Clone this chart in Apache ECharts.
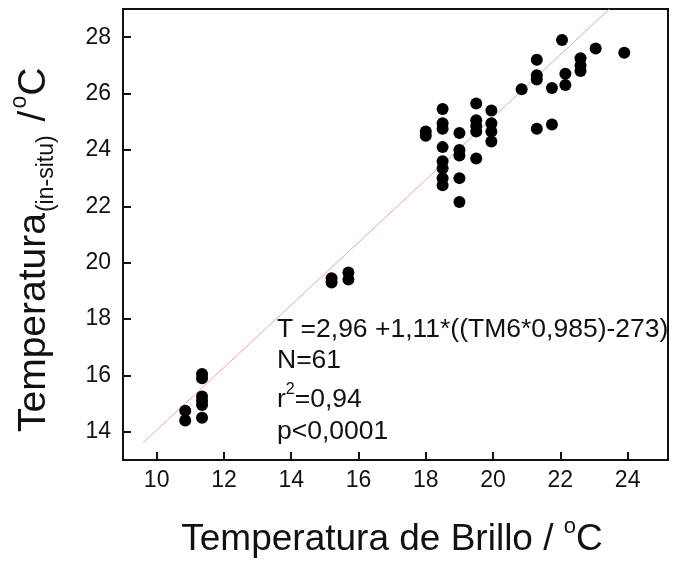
<!DOCTYPE html>
<html>
<head>
<meta charset="utf-8">
<script src="https://cdn.jsdelivr.net/npm/echarts@6/dist/echarts.min.js"></script>
<style>
  html, body { margin: 0; padding: 0; background: #fff; }
  #chart { width: 673px; height: 562px; }
</style>
</head>
<body>
<div id="chart"></div>
<script>
// Brightness temperature (°C) of each sample
const brilloX = [
  10.85, 10.85, 11.35, 11.35, 11.35, 11.35, 11.35, 11.35,
  15.2, 15.2, 15.7, 15.7,
  18.0, 18.0,
  18.5, 18.5, 18.5, 18.5, 18.5, 18.5, 18.5, 18.5,
  19.0, 19.0, 19.0, 19.0, 19.0,
  19.5, 19.5, 19.5, 19.5, 19.5,
  19.95, 19.95, 19.95, 19.95,
  20.85,
  21.3, 21.3, 21.3, 21.3,
  21.75, 21.75,
  22.05, 22.15, 22.15,
  22.6, 22.6, 22.6,
  23.05, 23.9
];
// In-situ temperature (°C) of each sample
const insituY = [
  14.75, 14.4, 16.05, 15.9, 15.25, 15.1, 14.95, 14.5,
  19.45, 19.3, 19.65, 19.4,
  24.65, 24.5,
  25.45, 24.95, 24.75, 24.1, 23.6, 23.35, 23.0, 22.75,
  24.6, 24.0, 23.8, 23.0, 22.15,
  25.65, 25.05, 24.85, 24.65, 23.7,
  25.4, 24.95, 24.65, 24.3,
  26.15,
  27.2, 26.65, 26.5, 24.75,
  26.2, 24.9,
  27.9, 26.7, 26.3,
  27.25, 27.0, 26.8,
  27.6, 27.45
];

const xTicks = [10, 12, 14, 16, 18, 20, 22, 24];
const yTicks = [14, 16, 18, 20, 22, 24, 26, 28];
const xRange = [9, 25.2];
const yRange = [13, 29];

// Regression line
const fitIntercept = 2.96;
const fitSlope = 1.11;
const fitStartX = 9.6;

const FONT = '"Liberation Sans", Arial, sans-serif';

const chart = echarts.init(document.getElementById('chart'), null, { renderer: 'canvas' });

const points = brilloX.map((x, i) => [x, insituY[i]]);
const fitEndX = (yRange[1] - fitIntercept) / fitSlope;
const fitLine = [fitStartX, fitEndX].map(x => [x, fitIntercept + fitSlope * x]);

// Text width helper for composing sub/superscript titles
const ctx = document.createElement('canvas').getContext('2d');
function textWidth(str, size) {
  ctx.font = size + 'px ' + FONT;
  return ctx.measureText(str).width;
}

// Pieces of a title laid out left to right: [text, fontSize, yOffset, gapAfter]
function buildTitle(pieces) {
  let x = 0;
  const children = [];
  pieces.forEach(([txt, size, dy, gap]) => {
    children.push({
      type: 'text',
      x: x, y: dy,
      style: { text: txt, font: size + 'px ' + FONT, fill: '#111',
               textAlign: 'left', textVerticalAlign: 'middle' }
    });
    x += textWidth(txt, size) + (gap || 0);
  });
  return { children, width: x };
}

const yTitle = buildTitle([
  ['Temperatura', 39, 0, 1],
  ['(in-situ)', 23, 13, 14],
  ['/', 39, 0, 2],
  ['o', 23, -14],
  ['C', 39, 0]
]);
const xTitle = buildTitle([
  ['Temperatura de Brillo / ', 37, 0],
  ['o', 22, -13],
  ['C', 37, 0]
]);

const statPieces = [
  [['T =2,96 +1,11*((TM6*0,985)-273)', 26.5, 0]],
  [['N=61', 26.5, 0]],
  [['r', 26.5, 0], ['2', 16, -10], ['=0,94', 26.5, 0]],
  [['p<0,0001', 26.5, 0]]
];
const statRowsY = [330, 361, 400, 432];
const statGroups = statPieces.map((p, i) => {
  const t = buildTitle(p);
  return { type: 'group', x: 277, y: statRowsY[i], children: t.children };
});

chart.setOption({
  animation: false,
  backgroundColor: '#fff',
  grid: {
    left: 123, right: 5, top: 9, bottom: 102,
    show: true, borderColor: '#111', borderWidth: 2, backgroundColor: 'transparent'
  },
  xAxis: {
    type: 'value', min: xRange[0], max: xRange[1],
    splitLine: { show: false },
    axisLine: { show: true, lineStyle: { color: '#111', width: 2 } },
    axisTick: { show: true, inside: true, length: 8, customValues: xTicks, lineStyle: { color: '#111', width: 2 } },
    axisLabel: { customValues: xTicks, fontSize: 23, color: '#111', fontFamily: FONT, margin: 9 }
  },
  yAxis: {
    type: 'value', min: yRange[0], max: yRange[1],
    splitLine: { show: false },
    axisLine: { show: true, lineStyle: { color: '#111', width: 2 } },
    axisTick: { show: true, inside: true, length: 8, customValues: yTicks, lineStyle: { color: '#111', width: 2 } },
    axisLabel: { customValues: yTicks, fontSize: 23, color: '#111', fontFamily: FONT, margin: 12 }
  },
  series: [
    {
      type: 'line', data: fitLine, symbol: 'none', silent: true, z: 1,
      lineStyle: { color: '#f2a0ae', width: 1 }
    },
    {
      type: 'scatter', data: points, symbol: 'circle', symbolSize: 12, z: 2,
      itemStyle: { color: '#000', opacity: 1 }
    }
  ],
  graphic: [
    {
      type: 'group', x: 34, y: 432, rotation: Math.PI / 2,
      children: yTitle.children
    },
    {
      type: 'group', x: 392 - xTitle.width / 2, y: 540,
      children: xTitle.children
    },
    ...statGroups
  ]
});
</script>
</body>
</html>
